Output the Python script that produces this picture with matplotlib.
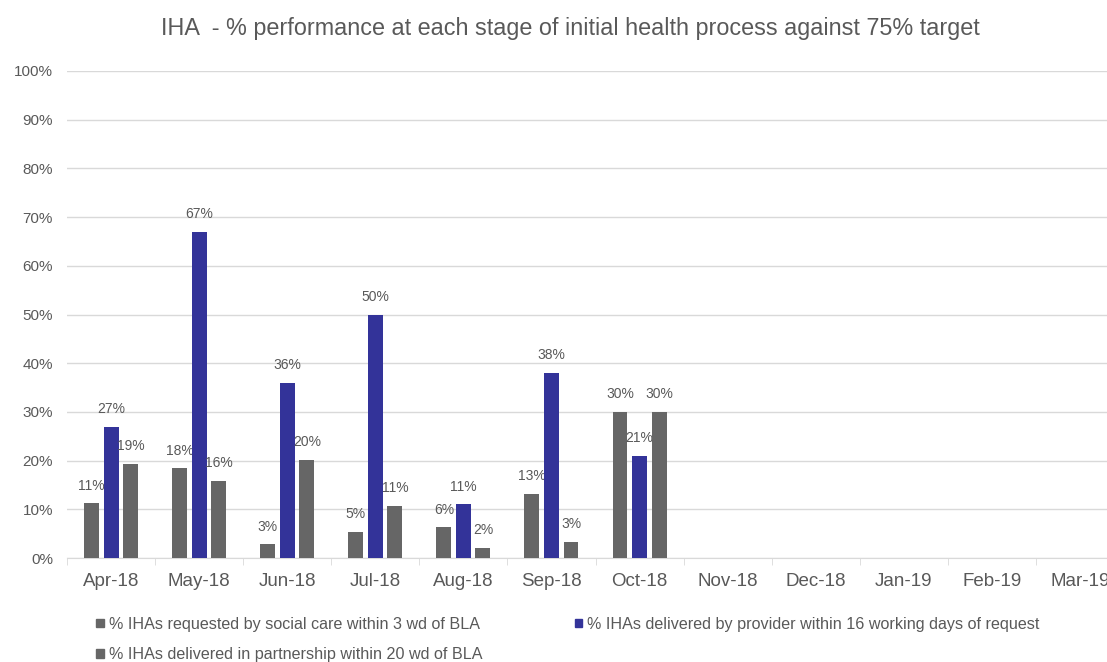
import numpy as np
import matplotlib.pyplot as plt
from matplotlib.patches import Patch

plt.rcParams['font.family'] = ['Liberation Sans', 'DejaVu Sans']

months = ["Apr-18", "May-18", "Jun-18", "Jul-18", "Aug-18", "Sep-18",
          "Oct-18", "Nov-18", "Dec-18", "Jan-19", "Feb-19", "Mar-19"]
# only the first seven months have data
requested = [11.2, 18.4, 2.8, 5.3, 6.3, 13.1, 30]
delivered = [27, 67, 36, 50, 11, 38, 21]
partnership = [19.4, 15.9, 20.2, 10.7, 2.1, 3.3, 30]

series_names = ["% IHAs requested by social care within 3 wd of BLA",
                "% IHAs delivered by provider within 16 working days of request",
                "% IHAs delivered in partnership within 20 wd of BLA"]

GREY = "#666666"
BLUE = "#333399"
TXT = "#595959"

fig = plt.figure(figsize=(11.07, 6.62), dpi=100)
ax = fig.add_axes([67 / 1107, 104 / 662, 1057 / 1107, 487 / 662])

x = np.arange(len(requested))
w = 0.17
off = 0.222
groups = [(requested, GREY, -off), (delivered, BLUE, 0), (partnership, GREY, off)]
for vals, col, dx in groups:
    bars = ax.bar(x + dx, vals, width=w, color=col, zorder=3)
    for b, v in zip(bars, vals):
        ax.text(b.get_x() + b.get_width() / 2, v + 2.2, "%d%%" % round(v),
                ha="center", va="bottom", fontsize=10, color=TXT)

ax.set_xlim(-0.5, len(months) - 0.5)
ax.set_ylim(0, 100)
ax.set_yticks(range(0, 101, 10))
ax.set_yticklabels(["%d%%" % v for v in range(0, 101, 10)], fontsize=11, color=TXT)
ax.set_xticks(range(len(months)))
ax.set_xticklabels(months, fontsize=13.5, color=TXT)
ax.set_xticks(np.arange(-0.5, len(months), 1), minor=True)
ax.tick_params(axis="x", which="major", length=0, pad=11)
ax.tick_params(axis="x", which="minor", length=5, color="#d9d9d9")
ax.tick_params(axis="y", length=0, pad=10)

ax.grid(axis="y", color="#d9d9d9", linewidth=1, zorder=0)
for s in ["top", "right", "left"]:
    ax.spines[s].set_visible(False)
ax.spines["bottom"].set_color("#d9d9d9")

fig.text(0.515, 0.957, "IHA  - % performance at each stage of initial health process against 75% target",
         ha="center", va="center", fontsize=16.8, color=TXT)

# legend fills column-wise, so order so rows read requested/delivered then partnership
handles = [Patch(color=GREY), Patch(color=GREY), Patch(color=BLUE)]
labels = [series_names[0], series_names[2], series_names[1]]
leg = fig.legend(handles, labels, loc="lower left", bbox_to_anchor=(0.074, -0.022),
                 ncol=2, frameon=False, fontsize=11.6, handlelength=0.45, handleheight=0.45,
                 handletextpad=0.3, columnspacing=5.75, labelspacing=0.95)
for t in leg.get_texts():
    t.set_color(TXT)

fig.savefig("out.png", dpi=100)
